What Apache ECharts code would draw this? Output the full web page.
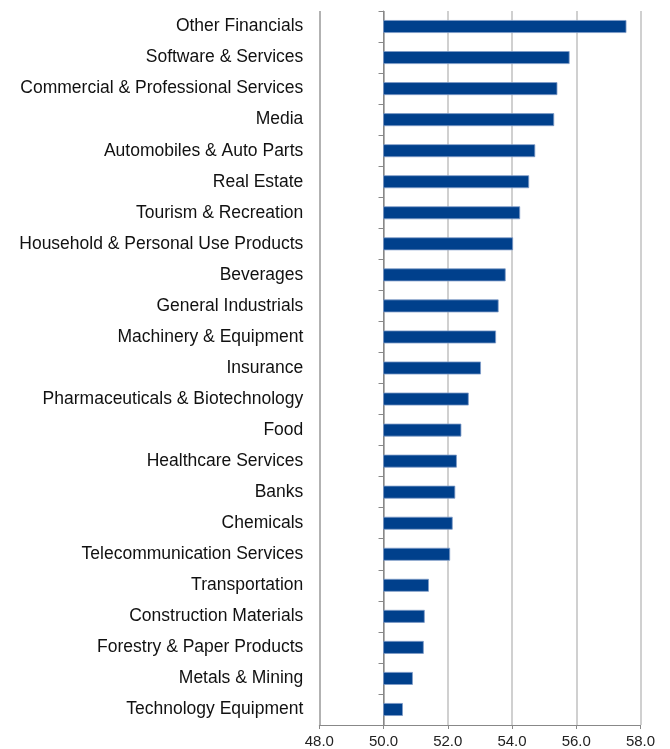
<!DOCTYPE html>
<html><head><meta charset="utf-8">
<script src="https://cdn.jsdelivr.net/npm/echarts@6/dist/echarts.min.js"></script>
<style>html,body{margin:0;padding:0;background:#fff}#c{width:670px;height:749px}</style>
</head><body><div id="c"></div>
<script>
const categories = ["Other Financials","Software & Services","Commercial & Professional Services","Media","Automobiles & Auto Parts","Real Estate","Tourism & Recreation","Household & Personal Use Products","Beverages","General Industrials","Machinery & Equipment","Insurance","Pharmaceuticals & Biotechnology","Food","Healthcare Services","Banks","Chemicals","Telecommunication Services","Transportation","Construction Materials","Forestry & Paper Products","Metals & Mining","Technology Equipment"];
const values = [57.55,55.78,55.40,55.30,54.71,54.52,54.24,54.02,53.79,53.57,53.49,53.02,52.64,52.41,52.27,52.22,52.14,52.06,51.40,51.27,51.24,50.90,50.59];
const baseValue = 50;
const xTicks = [48,50,52,54,56,58];

const chart = echarts.init(document.getElementById('c'));
const gridLeft = 319.3, gridRight = 29.5;
const plotW = 670 - gridLeft - gridRight;
const axisOffset = -(baseValue - xTicks[0]) / (xTicks[xTicks.length-1] - xTicks[0]) * plotW;
chart.setOption({
  animation: false,
  grid: {left: gridLeft, right: gridRight, top: 11, bottom: 24, containLabel: false},
  xAxis: {
    type: 'value', min: xTicks[0], max: xTicks[xTicks.length-1], interval: 2,
    axisLine: {show: true, lineStyle: {color: '#888', width: 1}},
    axisTick: {show: true, length: 4, lineStyle: {color: '#888'}},
    axisLabel: {formatter: v => v.toFixed(1), fontFamily: 'Liberation Sans', fontSize: 15, color: '#222', margin: 9},
    splitLine: {show: true, lineStyle: {color: ['#999','#999','#c0c0c0','#c0c0c0','#c0c0c0','#c0c0c0'], width: 1.5}}
  },
  yAxis: [{
    type: 'category', data: categories, inverse: true, position: 'left',
    axisLine: {show: false}, axisTick: {show: false},
    axisLabel: {fontFamily: 'Liberation Sans', fontSize: 17.5, color: '#111', margin: 16}
  },{
    type: 'category', data: categories, inverse: true, position: 'left', offset: axisOffset,
    axisLine: {show: true, lineStyle: {color: '#888', width: 1}},
    axisTick: {show: true, length: 5, lineStyle: {color: '#888'}},
    axisLabel: {show: false}
  }],
  series: [{
    type: 'custom',
    encode: {x: 0, y: 1},
    data: values.map((v, i) => [v, i]),
    renderItem: function(params, api) {
      const v = api.value(0), idx = api.value(1);
      const p0 = api.coord([baseValue, idx]);
      const p1 = api.coord([v, idx]);
      const h = api.size([0, 1])[1] * 0.39;
      return {
        type: 'rect',
        shape: {x: p0[0], y: p0[1] - h/2, width: p1[0] - p0[0], height: h},
        style: {fill: '#00408c', stroke: '#7f9cc8', lineWidth: 0.8}
      };
    }
  }]
});
</script></body></html>
